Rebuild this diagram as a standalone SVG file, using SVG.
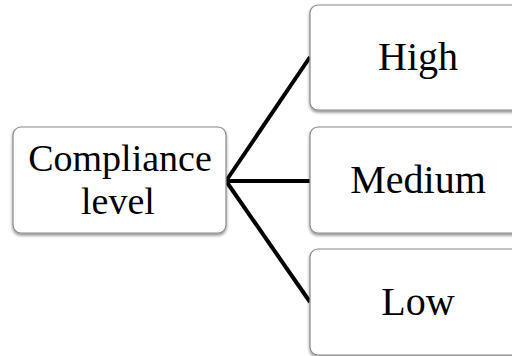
<svg xmlns="http://www.w3.org/2000/svg" width="512" height="356" viewBox="0 0 512 356">
  <defs>
    <filter id="sh" x="-10%" y="-10%" width="120%" height="130%">
      <feDropShadow dx="0" dy="2" stdDeviation="1.5" flood-color="#000" flood-opacity="0.45"/>
    </filter>
  </defs>
  <style>
    .box { fill: #fff; stroke: #8a8a8a; stroke-width: 1.2; filter: url(#sh); }
    .lbl { font-family: "Liberation Serif", "Times New Roman", serif; font-size: 40px; fill: #000; text-anchor: middle; }
    .sm { font-size: 38px; }
    .conn { stroke: #000; stroke-width: 4; fill: none; stroke-linecap: butt; }
  </style>
  <rect width="512" height="356" fill="#fff"/>
  <g id="connectors">
    <line class="conn" x1="226" y1="181" x2="310" y2="57"/>
    <line class="conn" x1="226" y1="181" x2="310" y2="181"/>
    <line class="conn" x1="226" y1="181" x2="310" y2="302"/>
  </g>
  <g id="node-compliance">
    <rect class="box" x="13" y="127" width="213" height="106" rx="8"/>
    <text class="lbl sm" x="120" y="171">Compliance</text>
    <text class="lbl sm" x="118" y="214">level</text>
  </g>
  <g id="node-high">
    <rect class="box" x="310" y="5" width="214" height="105" rx="8"/>
    <text class="lbl" x="418" y="70">High</text>
  </g>
  <g id="node-medium">
    <rect class="box" x="310" y="127" width="214" height="106" rx="8"/>
    <text class="lbl" x="418" y="193">Medium</text>
  </g>
  <g id="node-low">
    <rect class="box" x="310" y="249" width="214" height="106" rx="8"/>
    <text class="lbl" x="418" y="315">Low</text>
  </g>
</svg>
